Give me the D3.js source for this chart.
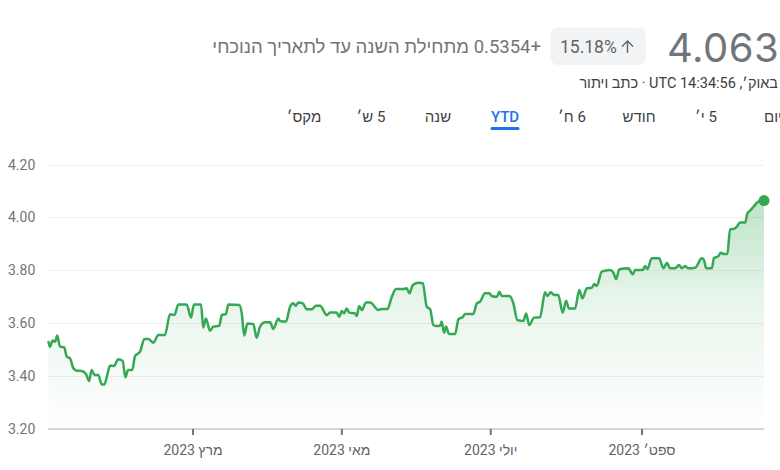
<!DOCTYPE html>
<html lang="he">
<head>
<meta charset="utf-8">
<script src="https://cdn.jsdelivr.net/npm/d3@7"></script>
<style>
  html, body { margin: 0; padding: 0; background: #fff; overflow: hidden; }
  #wrap { position: relative; width: 780px; height: 470px; overflow: hidden; font-family: Roboto, "Liberation Sans", Arial, sans-serif; }
  #wrap svg { position: absolute; left: 0; top: 0; }
  .h { position: absolute; white-space: nowrap; line-height: 1; }
</style>
</head>
<body>
<div id="wrap"></div>
<script>
// ---- data ----
const dayOffsets = [0,0.6,1.7,2.7,3.6,4.7,6.4,7.5,8.8,10.2,11.6,13.6,15.4,16.6,17.7,18.8,20.4,21.8,22.9,23.9,25.2,26.8,28.6,30.4,31.5,32.6,34.3,35.5,37.5,39.3,40.9,43.0,45.0,47.7,49.8,51.6,53.2,56.6,58.4,59.6,62.5,63.4,64.5,66.2,67.5,70.0,71.0,72.7,73.7,78.2,79.2,80.2,81.5,83.9,85.3,86.7,88.7,90.8,92.1,94.2,94.9,97.3,99.0,100.3,101.3,102.4,104.2,105.8,107.9,109.6,111.3,114.0,115.4,118.1,119.1,120.2,121.1,122.2,123.2,125.6,126.3,127.3,128.4,130.1,131.8,135.2,136.6,138.9,140.7,142.4,145.4,146.8,147.9,149.3,151.6,153.4,155.0,156.4,157.7,159.1,160.5,161.1,162.1,162.9,164.1,166.6,168.0,169.8,170.7,174.1,175.5,176.8,178.9,180.7,181.6,183.7,184.8,185.7,188.9,190.5,192.1,194.6,195.7,197.0,199.0,201.4,203.5,204.4,205.8,207.2,208.9,210.7,212.1,213.2,215.8,217.5,218.8,220.6,222.6,223.6,224.7,226.7,230.1,231.5,232.6,233.9,237.6,239.4,240.4,243.5,244.5,245.4,247.2,250.2,252.0,253.4,254.7,256.8,258.4,259.5,260.9,262.0,265.0,267.7,268.6,269.5,271.8,272.7,274.5,275.5,276.8,278.2,279.3,280.7,282.0,283.4,285.5,286.4,287.5,288.9,290.3,291.6,293.2];
const rates = [3.528,3.510,3.533,3.529,3.552,3.510,3.508,3.472,3.466,3.428,3.419,3.418,3.406,3.380,3.422,3.403,3.403,3.367,3.367,3.396,3.438,3.437,3.462,3.456,3.394,3.422,3.422,3.475,3.491,3.539,3.539,3.525,3.554,3.554,3.633,3.630,3.670,3.670,3.620,3.670,3.670,3.583,3.617,3.570,3.586,3.589,3.630,3.633,3.670,3.668,3.636,3.552,3.598,3.596,3.544,3.586,3.602,3.602,3.577,3.617,3.607,3.605,3.661,3.674,3.665,3.677,3.674,3.652,3.652,3.665,3.665,3.630,3.639,3.639,3.623,3.645,3.636,3.655,3.639,3.636,3.626,3.664,3.649,3.677,3.677,3.649,3.653,3.653,3.699,3.728,3.728,3.731,3.712,3.744,3.752,3.750,3.661,3.652,3.592,3.588,3.589,3.605,3.563,3.586,3.558,3.558,3.614,3.623,3.634,3.634,3.674,3.680,3.712,3.712,3.702,3.699,3.718,3.702,3.702,3.674,3.611,3.607,3.636,3.592,3.620,3.621,3.716,3.702,3.716,3.706,3.706,3.639,3.684,3.655,3.655,3.725,3.693,3.731,3.733,3.747,3.740,3.794,3.800,3.790,3.766,3.803,3.807,3.784,3.800,3.800,3.816,3.803,3.845,3.845,3.807,3.828,3.807,3.807,3.819,3.807,3.816,3.807,3.809,3.845,3.838,3.807,3.807,3.845,3.853,3.866,3.861,3.861,3.955,3.956,3.964,3.980,3.980,4.015,4.025,4.040,4.055,4.063,4.0633];
const yTickValues = [3.2, 3.4, 3.6, 3.8, 4.0, 4.2];
const xTickDates = ["2023-03-01", "2023-05-01", "2023-07-01", "2023-09-01"];
const xTickLabels = ["מרץ 2023", "מאי 2023", "יולי 2023", "ספט׳ 2023"];
const rangeTabs = ["מקס׳", "5 ש׳", "שנה", "YTD", "6 ח׳", "חודש", "5 י׳", "יום"];
const selectedTab = "YTD";
const lastPrice = "4.0633";
const changeText = "+0.5354 מתחילת השנה עד לתאריך הנוכחי";
const changePct = "15.18%";
const stampText = "באוק׳, 14:34:56 UTC · כתב ויתור";

// ---- setup ----
const W = 780, H = 470;
const green = "#34a853";
const FONT = "Roboto, 'Liberation Sans', Arial, sans-serif";
const wrap = d3.select("#wrap");
const svg = wrap.append("svg").attr("width", W).attr("height", H);

const start = new Date(2023, 0, 1);
const toDate = d => new Date(start.getTime() + d * 86400000);
const n = Math.min(dayOffsets.length, rates.length);
const data = d3.range(n).map(i => ({ date: toDate(dayOffsets[i]), v: rates[i] }));

const x = d3.scaleTime().domain([start, toDate(dayOffsets[n - 1])]).range([48.5, 764]);
const y = d3.scaleLinear().domain([3.2, 4.2]).range([428.5, 164.5]);
const plotLeft = x.range()[0] - 0.5, plotRight = x.range()[1];

// ---- header ----
wrap.append("div").attr("class", "h")
  .style("left", "667px").style("top", "28px")
  .style("font-family", "Inter, Roboto, sans-serif")
  .style("font-size", "40px").style("letter-spacing", "0.5px").style("color", "#70757a")
  .text(lastPrice);

wrap.append("div").attr("class", "h").attr("dir", "rtl")
  .style("right", (W - 541) + "px").style("top", "38px")
  .style("font-size", "18.5px").style("color", "#70757a")
  .text(changeText);

wrap.append("div").attr("class", "h").attr("dir", "rtl")
  .style("right", "2px").style("top", "77px")
  .style("font-size", "14.5px").style("color", "#3c4043")
  .text(stampText);

// badge
const badge = svg.append("g");
badge.append("rect").attr("x", 550.5).attr("y", 27.5).attr("width", 95.5).attr("height", 37.5)
  .attr("rx", 8).attr("fill", "#f1f3f4");
badge.append("text").attr("x", 560).attr("y", 52.7)
  .attr("font-size", 17.5).attr("fill", "#5f6368").text(changePct);
badge.append("path")
  .attr("d", "M627.5,53 V41 M622,46.5 L627.5,41 L633,46.5")
  .attr("fill", "none").attr("stroke", "#5f6368").attr("stroke-width", 1.4);

// tabs
const tabX = d3.scalePoint().domain(rangeTabs).range([304, 773]);
const tabs = svg.append("g");
tabs.selectAll("text").data(rangeTabs).join("text")
  .attr("x", d => tabX(d)).attr("y", 122)
  .attr("text-anchor", "middle").attr("direction", "rtl")
  .attr("font-size", 15)
  .attr("font-weight", d => d === selectedTab ? 500 : 400)
  .attr("fill", d => d === selectedTab ? "#1a73e8" : "#3c4043")
  .text(d => d);
tabs.append("rect")
  .attr("x", tabX(selectedTab) - 14.5).attr("y", 127).attr("width", 29).attr("height", 3)
  .attr("rx", 1.5).attr("fill", "#1a73e8");

// ---- area (under grid) ----
const defs = svg.append("defs");
const grad = defs.append("linearGradient").attr("id", "fillGrad")
  .attr("gradientUnits", "userSpaceOnUse")
  .attr("x1", 0).attr("x2", 0).attr("y1", y(d3.max(rates))).attr("y2", y(3.2));
grad.append("stop").attr("offset", 0).attr("stop-color", green).attr("stop-opacity", 0.32);
grad.append("stop").attr("offset", 0.45).attr("stop-color", green).attr("stop-opacity", 0.11);
grad.append("stop").attr("offset", 1).attr("stop-color", green).attr("stop-opacity", 0.0);

const curve = d3.curveMonotoneX;
svg.append("path").datum(data)
  .attr("d", d3.area().x(d => x(d.date)).y0(y(3.2)).y1(d => y(d.v)).curve(curve))
  .attr("fill", "url(#fillGrad)");

// ---- grid ----
svg.append("g").selectAll("line").data(yTickValues.filter(v => v > 3.2)).join("line")
  .attr("x1", plotLeft).attr("x2", plotRight)
  .attr("y1", d => Math.round(y(d)) + 0.5).attr("y2", d => Math.round(y(d)) + 0.5)
  .attr("stroke", "#202124").attr("stroke-opacity", 0.07).attr("stroke-width", 1);

svg.append("g").selectAll("text").data(yTickValues).join("text")
  .attr("x", 8).attr("y", d => y(d) + 5)
  .attr("font-size", 14).attr("fill", "#70757a")
  .text(d => d.toFixed(2));

// x axis
const tickDates = xTickDates.map(d3.timeParse("%Y-%m-%d"));
const xAxis = d3.axisBottom(x).tickValues(tickDates)
  .tickFormat((d, i) => xTickLabels[i]).tickSize(6).tickPadding(10);
const gx = svg.append("g").attr("transform", "translate(0,429)").call(xAxis);
gx.select(".domain").remove();
gx.insert("line", ":first-child").attr("x1", plotLeft).attr("x2", plotRight).attr("y1", 0).attr("y2", 0)
  .attr("stroke", "#c4c7c9").attr("stroke-width", 1.5);
gx.selectAll(".tick line").attr("stroke", "#70757a").attr("stroke-width", 2);
gx.selectAll(".tick text").attr("font-size", 14).attr("fill", "#5f6368");

// line
svg.append("path").datum(data)
  .attr("d", d3.line().x(d => x(d.date)).y(d => y(d.v)).curve(curve))
  .attr("fill", "none").attr("stroke", green).attr("stroke-width", 2.5)
  .attr("stroke-linejoin", "round").attr("stroke-linecap", "round");

const last = data[n - 1];
svg.append("circle").attr("cx", x(last.date)).attr("cy", y(last.v)).attr("r", 5.5).attr("fill", green);

svg.selectAll("text").attr("font-family", FONT);
</script>
</body>
</html>
